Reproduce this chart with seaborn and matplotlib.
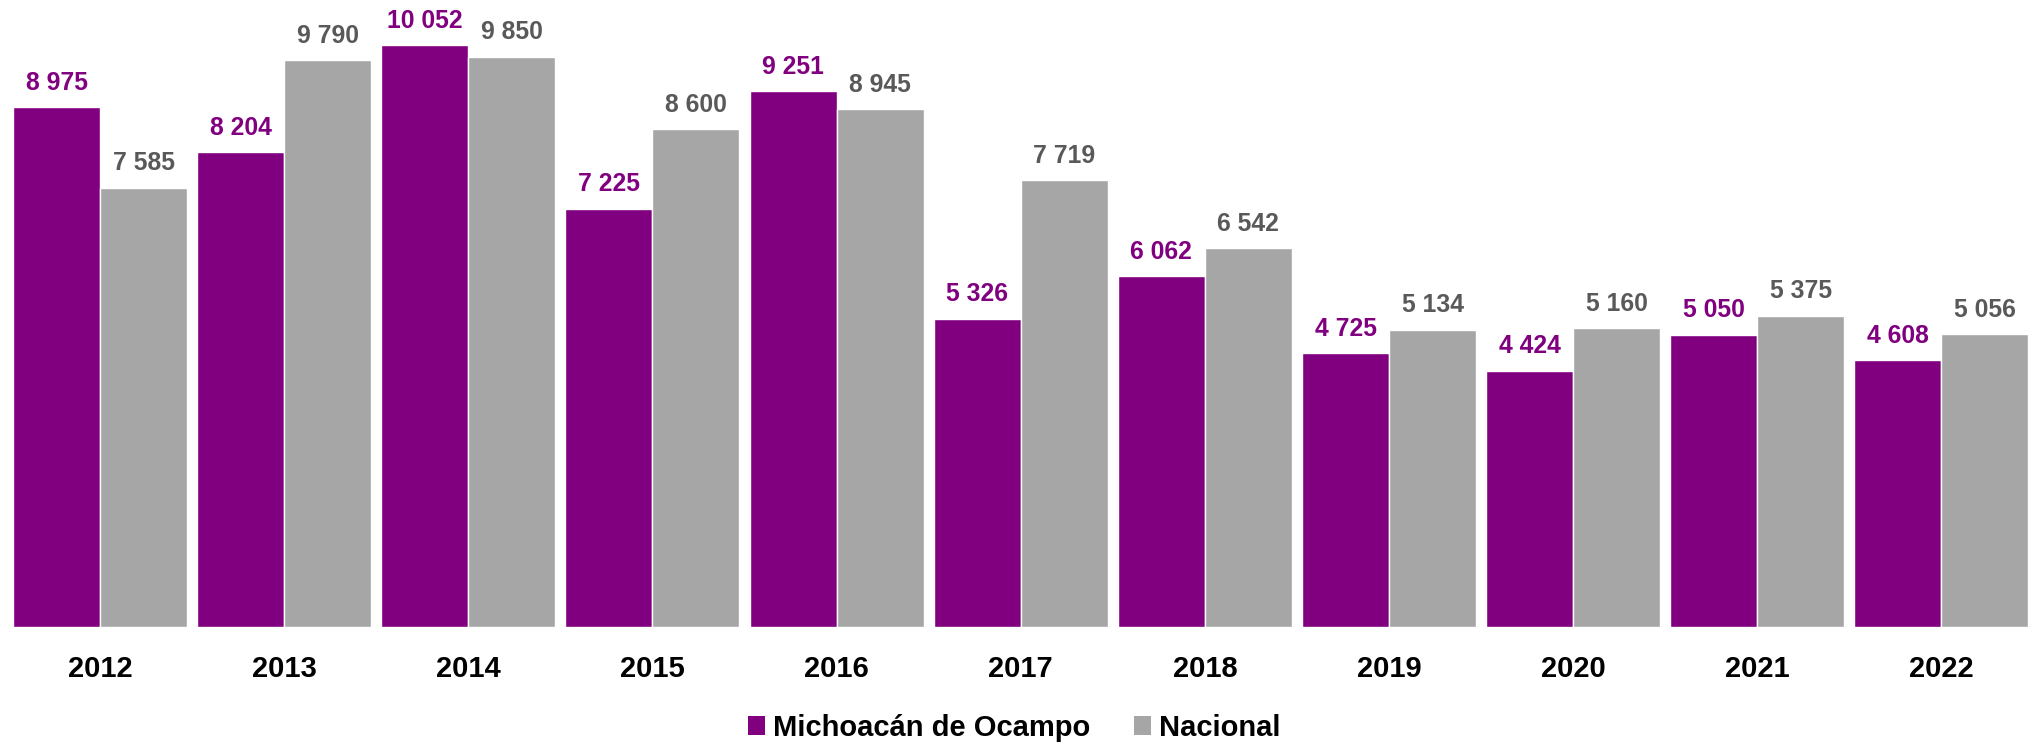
import matplotlib
matplotlib.use("Agg")
import matplotlib.pyplot as plt
import seaborn as sns
import pandas as pd
from matplotlib.patches import Patch

years = ["2012", "2013", "2014", "2015", "2016", "2017", "2018", "2019", "2020", "2021", "2022"]
michoacan = [8975, 8204, 10052, 7225, 9251, 5326, 6062, 4725, 4424, 5050, 4608]
nacional = [7585, 9790, 9850, 8600, 8945, 7719, 6542, 5134, 5160, 5375, 5056]
series_names = ["Michoacán de Ocampo", "Nacional"]

bar_colors = ["#800080", "#A6A6A6"]
label_colors = ["#800080", "#595959"]

df = pd.DataFrame({
    "year": years * 2,
    "value": michoacan + nacional,
    "serie": [series_names[0]] * len(years) + [series_names[1]] * len(years),
})

sns.set_theme(style="white")
plt.rcParams["font.family"] = ["Liberation Sans", "DejaVu Sans"]

fig = plt.figure(figsize=(20.28, 7.45), dpi=100)
ax = fig.add_axes([8 / 2028, 1 - 627 / 745, 1 - 8 / 2028, 627 / 745])

sns.barplot(data=df, x="year", y="value", hue="serie", order=years,
            hue_order=series_names, palette=bar_colors, width=0.945,
            gap=0, saturation=1, ax=ax, legend=False, errorbar=None)

for cont, col in zip(ax.containers, label_colors):
    ax.bar_label(cont, labels=[f"{v:,.0f}".replace(",", " ") for v in cont.datavalues],
                 padding=9, color=col, fontsize=17.8, fontweight="bold")

ax.set_xlim(-0.5, 10.47)
ax.set_ylim(0, 10830)
ax.set_xlabel("")
ax.set_ylabel("")
ax.set_yticks([])
ax.tick_params(axis="x", length=0, pad=20, labelsize=21)
for lab in ax.get_xticklabels():
    lab.set_fontweight("bold")
    lab.set_color("black")
for s in ax.spines.values():
    s.set_visible(False)

handles = [Patch(facecolor=c, edgecolor="none") for c in bar_colors]
leg = fig.legend(handles, series_names, loc="center", bbox_to_anchor=(0.5, 1 - 728 / 745),
                 ncol=2, frameon=False, prop={"size": 21, "weight": "bold"},
                 handlelength=0.6, handleheight=0.6, handletextpad=0.25, columnspacing=1.5)
for t in leg.get_texts():
    t.set_color("black")

fig.savefig("out.png", dpi=100)
